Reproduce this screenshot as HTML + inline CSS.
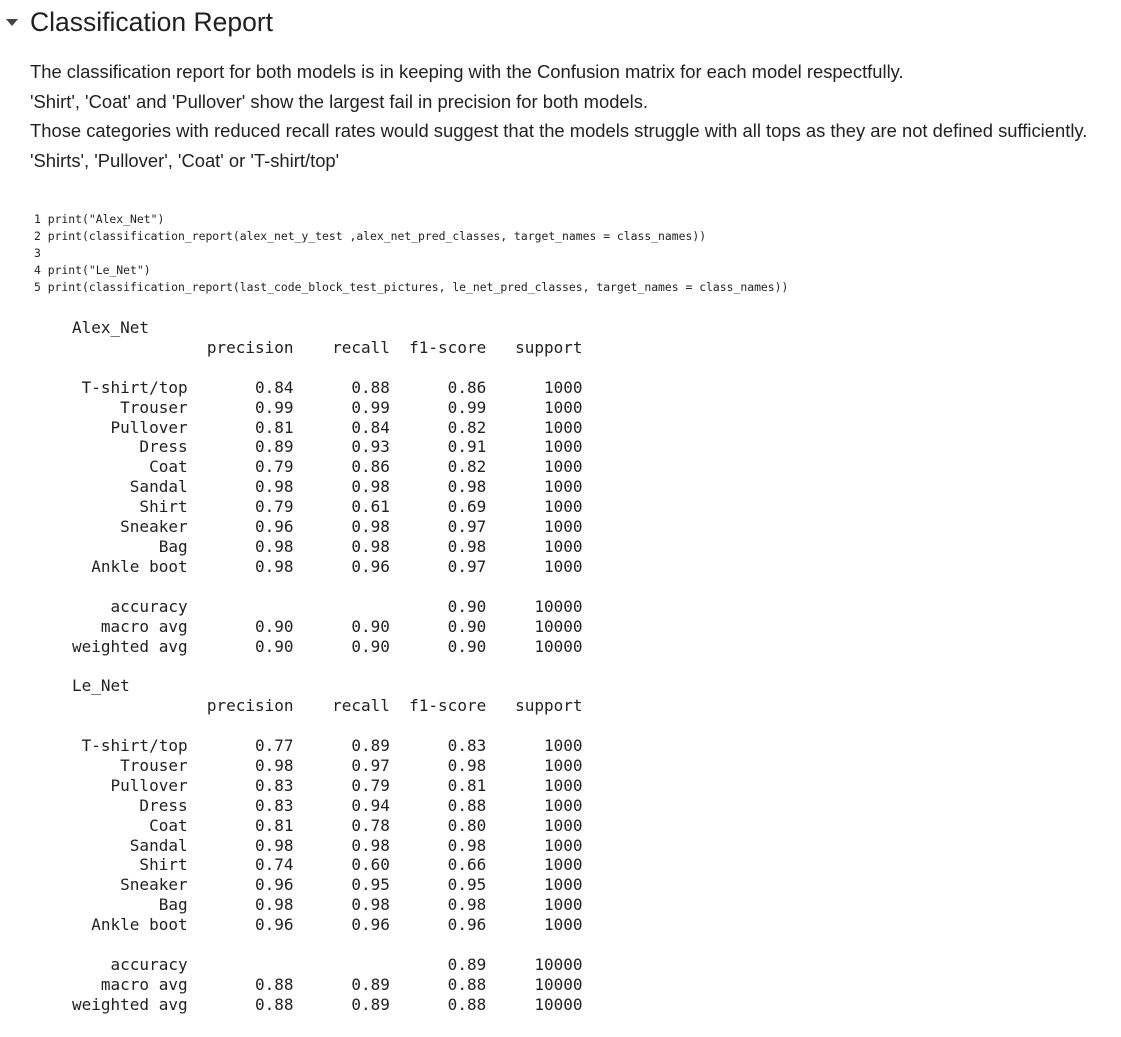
<!DOCTYPE html>
<html><head><meta charset="utf-8">
<style>
body{margin:0;background:#fff;width:1121px;height:1037px;overflow:hidden;font-family:"Liberation Sans",sans-serif;color:#212121;}
.hdr{position:absolute;left:30px;top:5px;font-size:26.5px;line-height:34px;color:#212121;}
.tri{position:absolute;left:6px;top:19px;width:0;height:0;border-left:6px solid transparent;border-right:6px solid transparent;border-top:7px solid #444;}
.para{position:absolute;left:30px;top:57px;font-size:18.4px;line-height:29.5px;color:#212121;white-space:nowrap;}
.code{position:absolute;left:34px;top:211px;font-family:"DejaVu Sans Mono","Liberation Mono",monospace;font-size:11.4px;line-height:17px;color:#212121;white-space:pre;margin:0;}
.out{position:absolute;left:72px;top:318px;font-family:"DejaVu Sans Mono","Liberation Mono",monospace;font-size:16px;line-height:19.9px;color:#212121;white-space:pre;margin:0;}
</style></head><body>
<div class="tri"></div>
<div class="hdr">Classification Report</div>
<div class="para">The classification report for both models is in keeping with the Confusion matrix for each model respectfully.<br>'Shirt', 'Coat' and 'Pullover' show the largest fail in precision for both models.<br>Those categories with reduced recall rates would suggest that the models struggle with all tops as they are not defined sufficiently.<br>'Shirts', 'Pullover', 'Coat' or 'T-shirt/top'</div>
<pre class="code">1 print("Alex_Net")
2 print(classification_report(alex_net_y_test ,alex_net_pred_classes, target_names = class_names))
3
4 print("Le_Net")
5 print(classification_report(last_code_block_test_pictures, le_net_pred_classes, target_names = class_names))</pre>
<pre class="out">Alex_Net
              precision    recall  f1-score   support

 T-shirt/top       0.84      0.88      0.86      1000
     Trouser       0.99      0.99      0.99      1000
    Pullover       0.81      0.84      0.82      1000
       Dress       0.89      0.93      0.91      1000
        Coat       0.79      0.86      0.82      1000
      Sandal       0.98      0.98      0.98      1000
       Shirt       0.79      0.61      0.69      1000
     Sneaker       0.96      0.98      0.97      1000
         Bag       0.98      0.98      0.98      1000
  Ankle boot       0.98      0.96      0.97      1000

    accuracy                           0.90     10000
   macro avg       0.90      0.90      0.90     10000
weighted avg       0.90      0.90      0.90     10000

Le_Net
              precision    recall  f1-score   support

 T-shirt/top       0.77      0.89      0.83      1000
     Trouser       0.98      0.97      0.98      1000
    Pullover       0.83      0.79      0.81      1000
       Dress       0.83      0.94      0.88      1000
        Coat       0.81      0.78      0.80      1000
      Sandal       0.98      0.98      0.98      1000
       Shirt       0.74      0.60      0.66      1000
     Sneaker       0.96      0.95      0.95      1000
         Bag       0.98      0.98      0.98      1000
  Ankle boot       0.96      0.96      0.96      1000

    accuracy                           0.89     10000
   macro avg       0.88      0.89      0.88     10000
weighted avg       0.88      0.89      0.88     10000</pre>
</body></html>
